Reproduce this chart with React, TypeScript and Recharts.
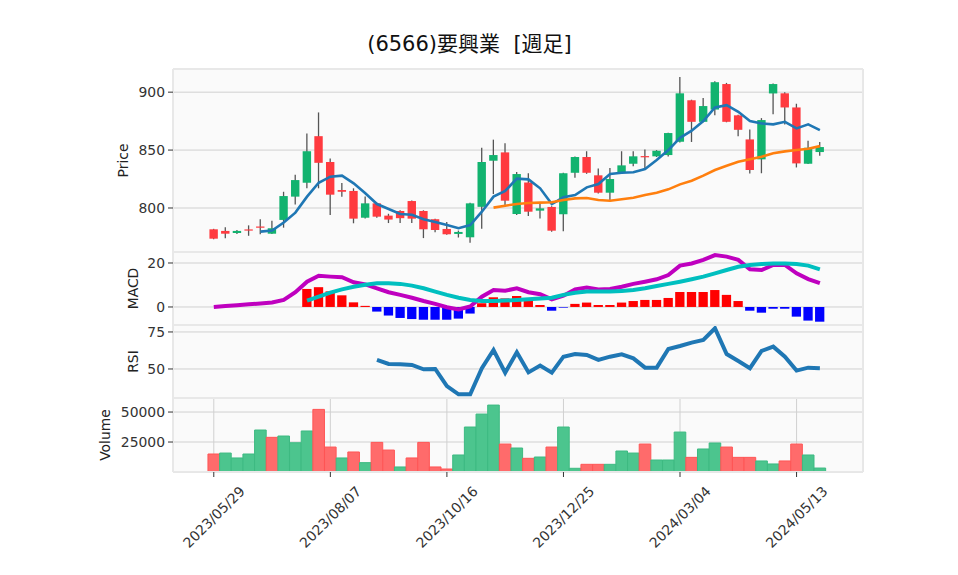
import React from 'react';
import {
    ComposedChart,
    Bar,
    Line,
    Cell,
    XAxis,
    YAxis,
    CartesianGrid,
} from 'recharts';

// weekly candles, 2023/05/29 - 2024/05/27
const dates = [
    '2023/05/29', '2023/06/05', '2023/06/12', '2023/06/19', '2023/06/26', '2023/07/03', '2023/07/10',
    '2023/07/17', '2023/07/24', '2023/07/31', '2023/08/07', '2023/08/14', '2023/08/21', '2023/08/28',
    '2023/09/04', '2023/09/11', '2023/09/18', '2023/09/25', '2023/10/02', '2023/10/09', '2023/10/16',
    '2023/10/23', '2023/10/30', '2023/11/06', '2023/11/13', '2023/11/20', '2023/11/27', '2023/12/04',
    '2023/12/11', '2023/12/18', '2023/12/25', '2024/01/01', '2024/01/08', '2024/01/15', '2024/01/22',
    '2024/01/29', '2024/02/05', '2024/02/12', '2024/02/19', '2024/02/26', '2024/03/04', '2024/03/11',
    '2024/03/18', '2024/03/25', '2024/04/01', '2024/04/08', '2024/04/15', '2024/04/22', '2024/04/29',
    '2024/05/06', '2024/05/13', '2024/05/20', '2024/05/27',
];

const opens = [
    781.6, 780.2, 778.4, 781.5, 784, 777.8, 789.7, 809.8, 821.8, 862,
    839.7, 815.5, 814.7, 791.6, 804, 793.4, 797.4, 806, 797.4, 790.3,
    781.9, 777.6, 774.7, 801, 840.8, 848, 794.8, 822, 797.7, 800.9,
    794.6, 830.4, 844, 828.2, 813.2, 830.8, 838.2, 844.8, 844.6, 845.7,
    857.2, 893, 874.4, 885, 907, 880, 859.2, 842, 898.9, 899,
    886.8, 838.2, 848.3,
];
const highs = [
    782, 783.4, 781, 785, 790.3, 789, 814, 828.7, 864.4, 882.5,
    842.8, 821.6, 817, 810, 804.5, 795, 798, 806.5, 798, 790.8,
    788, 780.5, 804.5, 852, 859, 856, 831, 830, 805, 801.5,
    830.5, 844.5, 849, 834, 834.5, 849, 849, 850.6, 850, 865,
    913, 893.5, 895, 909.5, 908, 880.5, 867.7, 877.6, 907.5, 900,
    890, 858, 857,
];
const lows = [
    773, 773.9, 777.5, 776, 777.3, 777.5, 783, 803, 817, 817,
    794, 809.8, 786.8, 791, 791.5, 787, 787, 787, 774, 779,
    777, 774.5, 770, 782, 812, 802, 794, 793, 791, 779.5,
    780, 826, 829.5, 812.5, 807, 829.5, 836, 834, 844, 844.5,
    856.5, 857, 874, 880, 874, 862, 829.8, 830, 881, 872,
    835, 838, 845,
];
const closes = [
    773.5, 777.8, 780.2, 780.5, 783, 782.5, 810.3, 824.1, 849, 839,
    811.5, 814, 790.8, 804, 792.5, 790, 791.2, 790.8, 781.6, 781,
    777.3, 779.3, 804, 839.7, 845.7, 806.3, 829.3, 796.8, 799.7, 780.4,
    830, 844, 830.4, 813.2, 825, 836.8, 844.6, 844.2, 849.4, 864.7,
    899, 874.4, 888, 908.6, 874.4, 867.5, 832.8, 875.9, 907, 886.8,
    838.5, 852, 852.6,
];

const ma5 = [
    null, null, null, null, 779.6, 780.5, 787.4, 796, 809.8, 821.8,
    827, 827.9, 821.3, 812.7, 803.4, 799.1, 794.8, 794.2, 790.3, 787.9,
    785.3, 782.5, 785.3, 796.8, 809.8, 814.7, 825.3, 824.7, 817, 803.4,
    809.2, 811.2, 817.8, 820.7, 829.3, 830.4, 830.8, 833.6, 841.4, 850,
    860.6, 866.7, 875, 886.8, 888.8, 883, 875, 873, 872.2, 874.4,
    868.7, 872.2, 867.2,
];
const ma25 = [
    null, null, null, null, null, null, null, null, null, null,
    null, null, null, null, null, null, null, null, null, null,
    null, null, null, null, 800.3, 802, 803.4, 804.3, 804.6, 804.9,
    806.9, 808.3, 808.6, 806.9, 806.3, 807.5, 808.9, 811.2, 813.2, 816.1,
    820.4, 823.5, 827.9, 832.8, 836.5, 839.9, 842, 844.2, 847.2, 848.9,
    850, 851.1, 853.4,
];

const macd = [
    0, 0.4, 0.8, 1.2, 1.6, 2.0, 3.2, 6.7, 11.5, 14.2,
    13.8, 13.5, 11.2, 10.3, 8.5, 6.7, 5.5, 4.2, 2.7, 1.4,
    -0.1, -1.1, 0.2, 4.7, 7.7, 7.4, 8.5, 6.7, 5.8, 3.5,
    5.1, 8.0, 8.8, 8.0, 8.2, 9.2, 10.5, 11.5, 12.6, 14.5,
    18.8, 19.8, 21.4, 23.6, 22.9, 21.4, 17.1, 16.8, 19.1, 19.1,
    15.3, 12.7, 10.8,
];
const signal = [
    null, null, null, null, null, null, null, null, 2.9, 4.7,
    6.5, 8.0, 9.2, 10.1, 10.8, 10.8, 10.5, 9.7, 8.5, 7.0,
    5.5, 4.2, 3.2, 2.7, 2.7, 2.9, 3.2, 3.5, 3.8, 4.2,
    5.5, 6.5, 7.0, 7.0, 7.0, 7.3, 7.7, 8.5, 9.5, 10.5,
    11.5, 12.6, 13.8, 15.3, 16.8, 18.3, 19.1, 19.5, 19.8, 19.8,
    19.5, 18.8, 17.1,
];
const hist = [
    null, null, null, null, null, null, null, null, 8.2, 9.0,
    7.1, 5.3, 2.1, 0.5, -2.1, -3.9, -5.0, -5.5, -5.8, -5.8,
    -5.8, -5.3, -3.0, 1.7, 4.4, 3.9, 5.0, 2.9, 0.9, -1.7,
    -0.3, 1.4, 2.0, 0.9, 0.9, 2.0, 2.7, 3.2, 3.2, 4.1,
    6.8, 6.8, 6.8, 7.7, 5.5, 2.7, -1.7, -2.6, -0.8, -0.8,
    -4.4, -6.2, -6.7,
];

const rsi = [
    null, null, null, null, null, null, null, null, null, null,
    null, null, null, null, 56.1, 53.4, 53.2, 52.7, 49.8, 50,
    38.5, 32.9, 32.9, 50.5, 62.8, 47.5, 61.3, 47.7, 52.3, 47.5,
    58.3, 60.1, 59.5, 56.1, 58.3, 59.9, 57.2, 50.9, 50.9, 63.5,
    65.5, 67.8, 69.6, 77.5, 60.1, 55.4, 50.5, 62.2, 65.1, 58.3,
    48.9, 50.9, 50.5,
];

const volumes = [
    15000, 15800, 11700, 15000, 35000, 28900, 30000, 24400, 34200, 52200,
    20800, 11700, 16700, 7800, 24700, 18300, 4200, 11700, 24700, 4200,
    2500, 14200, 37500, 48300, 55800, 23300, 20000, 11400, 12500, 20800,
    37500, 3100, 6400, 6400, 6400, 17500, 15800, 23300, 10000, 10000,
    33300, 12200, 19200, 24200, 20800, 12200, 12200, 9200, 6700, 9200,
    23300, 14200, 3300,
];

const xTicks = [0, 10, 20, 30, 40, 50];

const UP = '#12b36f';
const DOWN = '#ff3a3f';
const VOL_UP = '#4cc58e';
const VOL_DOWN = '#ff6b6b';
const GRID = '#d0d0d0';
const FONT = '"DejaVu Sans", "Noto Sans CJK JP", sans-serif';
const FS = 13.9;

const data = dates.map((d, i) => ({
    i,
    date: d,
    open: opens[i],
    high: highs[i],
    low: lows[i],
    close: closes[i],
    range: [lows[i], highs[i]],
    ma5: ma5[i],
    ma25: ma25[i],
    macd: macd[i],
    signal: signal[i],
    hist: hist[i],
    rsi: rsi[i],
    volume: volumes[i],
    volUp: i === 0 ? closes[i] >= opens[i] : closes[i] >= closes[i - 1],
}));

const W = 958;
// extra room above/below each plot so edge tick labels are not clipped
const PAD = 10;
const MARGIN = { top: PAD, right: 95, bottom: PAD, left: 100 };
const X_DOMAIN: [number, number] = [-3.5, 55.7];

const tickStyle = { fill: '#333', fontSize: FS };

const Candle = (props: any) => {
    const { x, y, width, height, payload } = props;
    if (!payload || height == null) return null;
    const { open, close, high, low } = payload;
    const cx = x + width / 2;
    const ratio = height / (high - low);
    const yOf = (v: number) => y + (high - v) * ratio;
    const top = yOf(Math.max(open, close));
    const bot = yOf(Math.min(open, close));
    const color = close >= open ? UP : DOWN;
    return (
        <g>
            <line x1={cx} x2={cx} y1={y} y2={y + height} stroke="#555" strokeWidth={1.3} />
            <rect x={cx - 4.2} y={top} width={8.4} height={Math.max(bot - top, 1.2)} fill={color} />
        </g>
    );
};

const DateTick = ({ x, y, payload }: any) => {
    const cy = y + 38;
    return (
        <text
            x={x}
            y={cy}
            textAnchor="middle"
            dominantBaseline="central"
            transform={`rotate(-45 ${x} ${cy})`}
            fontSize={FS}
            fill="#333"
        >
            {dates[payload.value]}
        </text>
    );
};

const HiddenX = () => (
    <XAxis
        type="number"
        dataKey="i"
        domain={X_DOMAIN}
        ticks={xTicks}
        allowDataOverflow
        tick={false}
        tickLine={false}
        axisLine={false}
        height={0}
    />
);

const yLabel = (value: string, offset: number) => ({
    value,
    angle: -90,
    position: 'insideLeft' as const,
    offset,
    style: { textAnchor: 'middle', fill: '#222', fontSize: FS },
});

const panelBorder = (top: number, height: number): React.CSSProperties => ({
    position: 'absolute',
    left: 173,
    top,
    width: 690,
    height,
    boxSizing: 'border-box',
    border: '1px solid #e8e8e8',
    pointerEvents: 'none',
});

const yAxisCommon = {
    allowDataOverflow: true,
    width: 73,
    axisLine: false,
    tickSize: 5,
    tickMargin: 3,
    tickLine: { stroke: '#333' },
    tick: tickStyle,
};

export default function App() {
    return (
        <div
            style={{
                position: 'absolute',
                left: 0,
                top: 0,
                width: W,
                height: 575,
                background: '#fff',
                fontFamily: FONT,
                overflow: 'hidden',
            }}
        >
            <div
                style={{
                    position: 'absolute',
                    top: 32,
                    left: 0,
                    width: 939,
                    textAlign: 'center',
                    fontSize: 21,
                    lineHeight: '24px',
                    whiteSpace: 'pre',
                    color: '#111',
                }}
            >
                {'(6566)要興業  [週足]'}
            </div>

            {/* Price */}
            <div style={{ position: 'absolute', left: 0, top: 69 - PAD }}>
                <ComposedChart width={W} height={183 + 2 * PAD} data={data} margin={MARGIN}>
                    <CartesianGrid stroke={GRID} fill="#fafafa" fillOpacity={1} />
                    {HiddenX()}
                    <YAxis
                        {...yAxisCommon}
                        domain={[762, 920]}
                        ticks={[800, 850, 900]}
                        label={yLabel('Price', 23)}
                    />
                    <Bar dataKey="range" shape={<Candle />} isAnimationActive={false} />
                    <Line dataKey="ma5" stroke="#1f77b4" strokeWidth={2.6} dot={false} isAnimationActive={false} />
                    <Line dataKey="ma25" stroke="#ff7f0e" strokeWidth={2.6} dot={false} isAnimationActive={false} />
                </ComposedChart>
            </div>

            {/* MACD */}
            <div style={{ position: 'absolute', left: 0, top: 252 - PAD }}>
                <ComposedChart width={W} height={73 + 2 * PAD} data={data} margin={MARGIN}>
                    <CartesianGrid stroke={GRID} fill="#fafafa" fillOpacity={1} />
                    {HiddenX()}
                    <YAxis
                        {...yAxisCommon}
                        domain={[-8.2, 25]}
                        ticks={[0, 20]}
                        label={yLabel('MACD', 33)}
                    />
                    <Bar dataKey="hist" barSize={9.3} isAnimationActive={false}>
                        {data.map((d) => (
                            <Cell key={d.i} fill={(d.hist ?? 0) >= 0 ? '#ff0000' : '#0000ff'} />
                        ))}
                    </Bar>
                    <Line dataKey="macd" stroke="#bf00bf" strokeWidth={4} dot={false} isAnimationActive={false} />
                    <Line dataKey="signal" stroke="#00bfbf" strokeWidth={4} dot={false} isAnimationActive={false} />
                </ComposedChart>
            </div>

            {/* RSI */}
            <div style={{ position: 'absolute', left: 0, top: 325 - PAD }}>
                <ComposedChart width={W} height={73 + 2 * PAD} data={data} margin={MARGIN}>
                    <CartesianGrid stroke={GRID} fill="#fafafa" fillOpacity={1} />
                    {HiddenX()}
                    <YAxis
                        {...yAxisCommon}
                        domain={[30.4, 79.7]}
                        ticks={[50, 75]}
                        label={yLabel('RSI', 33)}
                    />
                    <Line dataKey="rsi" stroke="#1f77b4" strokeWidth={4} dot={false} isAnimationActive={false} />
                </ComposedChart>
            </div>

            {/* Volume */}
            <div style={{ position: 'absolute', left: 0, top: 398 - PAD }}>
                <ComposedChart width={W} height={177 + PAD} data={data} margin={{ ...MARGIN, bottom: 0 }}>
                    <CartesianGrid stroke={GRID} fill="#fafafa" fillOpacity={1} />
                    <XAxis
                        type="number"
                        dataKey="i"
                        domain={X_DOMAIN}
                        ticks={xTicks}
                        allowDataOverflow
                        axisLine={false}
                        tickSize={5}
                        tickMargin={2}
                        tickLine={{ stroke: '#333' }}
                        tick={<DateTick />}
                        height={103}
                    />
                    <YAxis
                        {...yAxisCommon}
                        domain={[0, 61700]}
                        ticks={[25000, 50000]}
                        label={yLabel('Volume', 5)}
                    />
                    <Bar dataKey="volume" barSize={11.6} isAnimationActive={false}>
                        {data.map((d) => (
                            <Cell
                                key={d.i}
                                fill={d.volUp ? VOL_UP : VOL_DOWN}
                                stroke={d.volUp ? '#3dba82' : '#ff5555'}
                                strokeWidth={1}
                            />
                        ))}
                    </Bar>
                </ComposedChart>
            </div>

            <div style={panelBorder(69, 183)} />
            <div style={panelBorder(252, 73)} />
            <div style={panelBorder(325, 73)} />
            <div style={panelBorder(398, 74)} />
        </div>
    );
}
